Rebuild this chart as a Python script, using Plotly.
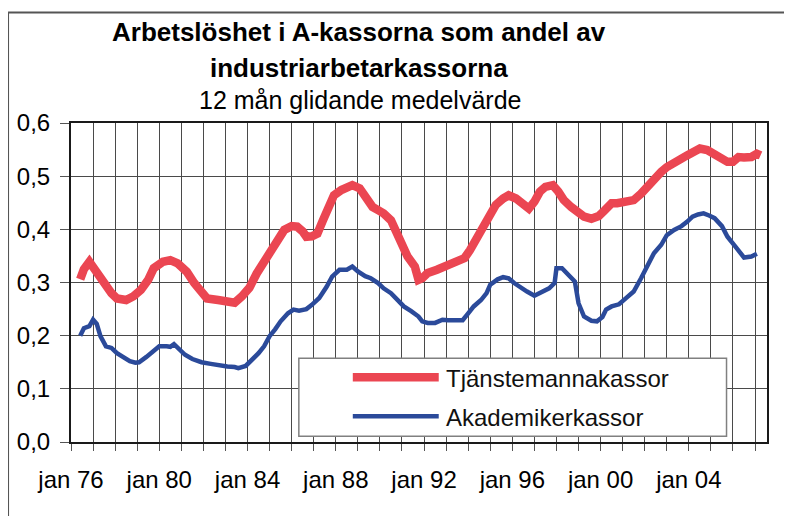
import plotly.graph_objects as go

# Month index counted from jan 1976 (0 = jan 76)
tjm_months = [5, 7, 10, 14, 18, 22, 25, 30, 34, 38, 42, 45, 50, 54, 58, 63, 67, 71, 74, 80,
              85, 89, 93, 97, 101, 105, 109, 112, 116, 120, 123, 126, 128, 131, 134, 137, 140, 143, 147, 150,
              153, 157, 160, 164, 167, 170, 174, 178, 180, 183, 187, 189, 191, 194, 199, 203, 207, 210, 214, 217,
              220, 224, 228, 231, 235, 238, 242, 246, 249, 252, 255, 258, 262, 265, 268, 272, 276, 279, 283, 287,
              290, 294, 297, 301, 304, 306, 310, 314, 317, 321, 324, 328, 332, 335, 339, 342, 346, 350, 354, 357,
              360, 363, 366, 370, 373, 375]
tjm_values = [0.306, 0.325, 0.339, 0.318, 0.299, 0.280, 0.270, 0.267, 0.274, 0.286, 0.305, 0.327, 0.339, 0.342, 0.336, 0.320, 0.299, 0.280, 0.270, 0.267,
              0.264, 0.262, 0.274, 0.290, 0.317, 0.339, 0.361, 0.380, 0.399, 0.406, 0.405, 0.396, 0.386, 0.387, 0.392, 0.417, 0.439, 0.464, 0.474, 0.477,
              0.483, 0.477, 0.461, 0.442, 0.436, 0.430, 0.417, 0.386, 0.370, 0.349, 0.330, 0.305, 0.308, 0.318, 0.324, 0.330, 0.337, 0.339, 0.346, 0.361,
              0.380, 0.399, 0.424, 0.446, 0.458, 0.464, 0.458, 0.449, 0.439, 0.452, 0.471, 0.480, 0.483, 0.471, 0.455, 0.442, 0.433, 0.424, 0.420, 0.425,
              0.435, 0.449, 0.449, 0.452, 0.455, 0.455, 0.467, 0.483, 0.496, 0.508, 0.517, 0.527, 0.533, 0.539, 0.549, 0.552, 0.549, 0.542, 0.533, 0.527,
              0.527, 0.536, 0.535, 0.536, 0.542, 0.539]

aka_months = [5, 7, 10, 12, 14, 16, 19, 22, 25, 28, 32, 35, 37, 41, 44, 48, 52, 54, 56, 59,
              62, 66, 71, 76, 80, 85, 89, 91, 95, 98, 102, 105, 108, 111, 114, 118, 121, 124, 128, 131,
              135, 139, 142, 146, 150, 153, 156, 160, 163, 167, 170, 174, 178, 181, 185, 189, 191, 194, 198, 202,
              205, 208, 213, 216, 219, 223, 226, 228, 232, 235, 238, 241, 245, 248, 252, 256, 260, 263, 264, 267,
              270, 274, 276, 279, 283, 286, 289, 291, 294, 298, 302, 306, 310, 314, 317, 321, 324, 328, 332, 335,
              338, 341, 344, 347, 350, 354, 357, 361, 364, 366, 370, 373]
aka_values = [0.200, 0.214, 0.218, 0.230, 0.222, 0.199, 0.180, 0.177, 0.167, 0.161, 0.152, 0.149, 0.150, 0.160, 0.169, 0.180, 0.180, 0.179, 0.184, 0.174,
              0.164, 0.156, 0.150, 0.147, 0.144, 0.142, 0.141, 0.139, 0.143, 0.153, 0.167, 0.180, 0.199, 0.212, 0.227, 0.242, 0.249, 0.247, 0.250, 0.258,
              0.271, 0.292, 0.311, 0.324, 0.324, 0.330, 0.321, 0.312, 0.308, 0.299, 0.289, 0.280, 0.264, 0.255, 0.246, 0.236, 0.227, 0.224, 0.224, 0.230,
              0.229, 0.229, 0.229, 0.242, 0.255, 0.267, 0.280, 0.296, 0.306, 0.310, 0.308, 0.299, 0.289, 0.283, 0.275, 0.283, 0.289, 0.299, 0.327, 0.327,
              0.317, 0.302, 0.261, 0.236, 0.228, 0.227, 0.235, 0.249, 0.255, 0.259, 0.271, 0.283, 0.308, 0.336, 0.355, 0.371, 0.389, 0.399, 0.406, 0.414,
              0.424, 0.428, 0.430, 0.426, 0.421, 0.406, 0.386, 0.369, 0.355, 0.347, 0.349, 0.354]

series_names = ["Tjänstemannakassor", "Akademikerkassor"]
year_tick_months = list(range(0, 373, 12))
year_labels = {0: "jan 76", 48: "jan 80", 96: "jan 84", 144: "jan 88",
               192: "jan 92", 240: "jan 96", 288: "jan 00", 336: "jan 04"}
tick_text = [year_labels.get(m, "") for m in year_tick_months]

title_line1 = "Arbetslöshet i A-kassorna som andel av"
title_line2 = "industriarbetarkassorna"
subtitle = "12 mån glidande medelvärde"

RED = "#EB4652"
BLUE = "#2B4A9A"
FONT = "Liberation Sans, Arial, sans-serif"

# page body has an 8px margin: work in screen pixels, convert to figure pixels
OFF = 8
W, H = 792 - OFF, 516 - OFF
L, R, T, B = 71 - OFF, 767.5 - OFF, 122.5 - OFF, 441.7 - OFF


def px(x):
    return (x - OFF - L) / (R - L)


def py(y):
    return (B - (y - OFF)) / (B - T)


fig = go.Figure()
fig.add_trace(go.Scatter(x=tjm_months, y=tjm_values, mode="lines", name=series_names[0],
                         line=dict(color=RED, width=8.5), showlegend=False))
fig.add_trace(go.Scatter(x=aka_months, y=aka_values, mode="lines", name=series_names[1],
                         line=dict(color=BLUE, width=4.5), showlegend=False))

shapes = [
    # outer chart border (top and left visible)
    dict(type="line", xref="paper", yref="paper", x0=px(8), x1=px(820), y0=py(12), y1=py(12),
         line=dict(color="#555555", width=2)),
    dict(type="line", xref="paper", yref="paper", x0=px(8), x1=px(8), y0=py(12), y1=py(540),
         line=dict(color="#555555", width=2)),
    # legend box
    dict(type="rect", xref="paper", yref="paper", x0=px(299), x1=px(727), y0=py(436), y1=py(358),
         line=dict(color="#808080", width=1.5), fillcolor="white", layer="above"),
    dict(type="line", xref="paper", yref="paper", x0=px(353), x1=px(439), y0=py(377), y1=py(377),
         line=dict(color=RED, width=8.5), layer="above"),
    dict(type="line", xref="paper", yref="paper", x0=px(353), x1=px(439), y0=py(416), y1=py(416),
         line=dict(color=BLUE, width=4.5), layer="above"),
]

annotations = [
    dict(text="<b>" + title_line1 + "</b>", x=px(359), y=py(31), xref="paper", yref="paper",
         showarrow=False, xanchor="center", yanchor="middle", font=dict(size=26, color="black", family=FONT)),
    dict(text="<b>" + title_line2 + "</b>", x=px(359), y=py(67), xref="paper", yref="paper",
         showarrow=False, xanchor="center", yanchor="middle", font=dict(size=26, color="black", family=FONT)),
    dict(text=subtitle, x=px(360), y=py(99), xref="paper", yref="paper",
         showarrow=False, xanchor="center", yanchor="middle", font=dict(size=25, color="black", family=FONT)),
    dict(text=series_names[0], x=px(444), y=py(378), xref="paper", yref="paper",
         showarrow=False, xanchor="left", yanchor="middle", font=dict(size=24, color="#111111", family=FONT)),
    dict(text=series_names[1], x=px(444), y=py(417), xref="paper", yref="paper",
         showarrow=False, xanchor="left", yanchor="middle", font=dict(size=24, color="#111111", family=FONT)),
]

fig.update_layout(
    width=W, height=H,
    margin=dict(l=L, r=W - R, t=T, b=H - B, pad=0, autoexpand=False),
    paper_bgcolor="white", plot_bgcolor="white",
    separators=", ",
    font=dict(family=FONT, size=24, color="black"),
    shapes=shapes, annotations=annotations,
    showlegend=False,
)
fig.update_xaxes(
    range=[0, 378.5], tickmode="array", tickvals=year_tick_months, ticktext=tick_text,
    showgrid=True, gridcolor="#4a4a4a", gridwidth=1,
    showline=True, linecolor="#1a1a1a", linewidth=2, mirror=True,
    ticks="outside", ticklen=7, tickcolor="#555555", tickwidth=1,
    ticklabelstandoff=8, zeroline=False, tickfont=dict(size=24), automargin=False,
)
fig.update_yaxes(
    range=[0, 0.6], tickmode="linear", tick0=0, dtick=0.1, tickformat=".1f",
    showgrid=True, gridcolor="#4a4a4a", gridwidth=1,
    showline=True, linecolor="#1a1a1a", linewidth=2, mirror=True,
    ticks="outside", ticklen=9, tickcolor="#555555", tickwidth=1,
    ticklabelstandoff=5, zeroline=False, tickfont=dict(size=24), automargin=False,
)

fig.write_html("out.html")
